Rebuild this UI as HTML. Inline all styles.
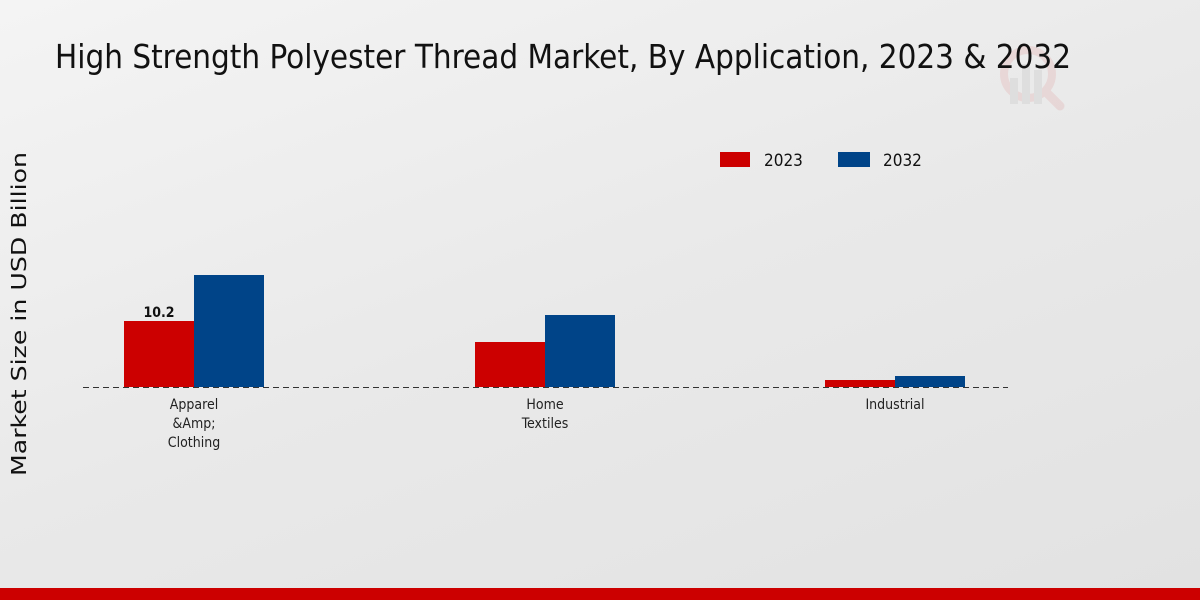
<!DOCTYPE html>
<html><head><meta charset="utf-8"><style>
html,body{margin:0;padding:0}
body{width:1200px;height:600px;overflow:hidden;background:linear-gradient(160deg,#f4f4f4 0%,#e9e9e9 50%,#e2e2e2 100%);font-family:"DejaVu Sans Condensed","DejaVu Sans","Liberation Sans",sans-serif;position:relative}
</style></head><body>
<svg width="1200" height="600" style="position:absolute;left:0;top:0" font-family="DejaVu Sans Condensed, DejaVu Sans, sans-serif">
<g opacity="0.25">
<circle cx="1028" cy="74" r="24" fill="none" stroke="#e0a0a0" stroke-width="8"/>
<line x1="1046" y1="92" x2="1060" y2="106" stroke="#e0a0a0" stroke-width="9" stroke-linecap="round"/>
<rect x="1010" y="78" width="8" height="26" fill="#bbb"/><rect x="1022" y="64" width="8" height="40" fill="#bbb"/><rect x="1034" y="70" width="8" height="34" fill="#bbb"/>
</g>
<text x="55" y="68" font-size="33" fill="#111" textLength="1016" lengthAdjust="spacingAndGlyphs">High Strength Polyester Thread Market, By Application, 2023 &amp; 2032</text>
<rect x="720" y="152" width="30" height="15" fill="#cc0000"/>
<text x="764" y="166" font-size="17" fill="#111">2023</text>
<rect x="838" y="152" width="32" height="15" fill="#004488"/>
<text x="883" y="166" font-size="17" fill="#111">2032</text>
<text transform="translate(26,314) rotate(-90)" text-anchor="middle" font-size="20" font-family="DejaVu Sans, sans-serif" fill="#111" textLength="324" lengthAdjust="spacingAndGlyphs">Market Size in USD Billion</text>
<rect x="124" y="321" width="70" height="66" fill="#cc0000"/>
<rect x="194" y="275" width="70" height="112" fill="#004488"/>
<rect x="475" y="342" width="70" height="45" fill="#cc0000"/>
<rect x="545" y="315" width="70" height="72" fill="#004488"/>
<rect x="825" y="380" width="70" height="7" fill="#cc0000"/>
<rect x="895" y="376" width="70" height="11" fill="#004488"/>
<line x1="83" y1="387.5" x2="1008" y2="387.5" stroke="#333" stroke-dasharray="6,4" stroke-width="1"/>
<text x="159" y="317" text-anchor="middle" font-size="14" font-weight="bold" fill="#111">10.2</text>
<g font-size="14" fill="#222" text-anchor="middle">
<text x="194" y="409">Apparel</text><text x="194" y="428">&amp;Amp;</text><text x="194" y="447">Clothing</text>
<text x="545" y="409">Home</text><text x="545" y="428">Textiles</text>
<text x="895" y="409">Industrial</text>
</g>
<rect x="0" y="588" width="1200" height="12" fill="#cc0000"/>
</svg>
</body></html>
